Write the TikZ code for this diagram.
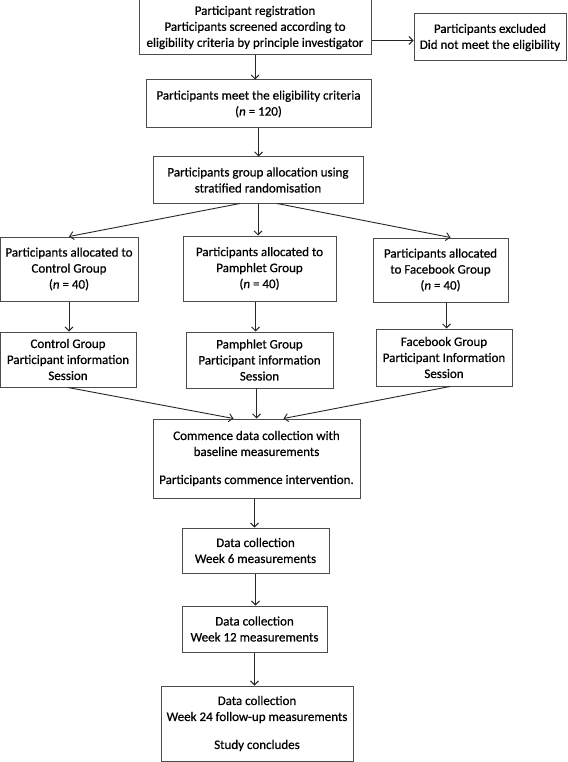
\documentclass[tikz,border=0pt]{standalone}
\usepackage{fontspec}
\setmainfont{Carlito}[FakeBold=0.6]
\usetikzlibrary{arrows.meta}

\begin{document}
\begin{tikzpicture}[x=1pt,y=-1pt,
      box/.style={draw=black!70,line width=1pt,align=center,inner sep=0pt,
                  font=\fontsize{13}{16}\selectfont},
      link/.style={every edge/.style={draw=black!85,line width=0.9pt,
                  -{Straight Barb[length=4pt,width=8pt]}}}]
      \useasboundingbox (0,0) rectangle (567,762);
      % screening
      \node[box,minimum width=232pt,minimum height=55pt] (reg) at (255,27.5)
            {Participant registration\\Participants screened according to\\eligibility criteria by principle investigator};
      \node[box,minimum width=152pt,minimum height=47pt] (excl) at (490,37.5)
            {Participants excluded\\Did not meet the eligibility};
      \node[box,minimum width=225pt,minimum height=48pt] (meet) at (258.5,104)
            {Participants meet the eligibility criteria\\(\textit{n} = 120)};
      \node[box,minimum width=210pt,minimum height=46pt] (alloc) at (258,180)
            {Participants group allocation using\\stratified randomisation};
      % groups
      \node[box,minimum width=138pt,minimum height=64pt] (ctrl) at (69,269)
            {Participants allocated to\\Control Group\\(\textit{n} = 40)};
      \node[box,minimum width=153pt,minimum height=65pt] (pamph) at (259.5,268.5)
            {Participants allocated to\\Pamphlet Group\\(\textit{n} = 40)};
      \node[box,minimum width=135pt,minimum height=64pt] (fb) at (440.5,270)
            {Participants allocated\\to Facebook Group\\(\textit{n} = 40)};
      \node[box,minimum width=136pt,minimum height=55pt] (ctrl-s) at (68,359.5)
            {Control Group\\Participant information\\Session};
      \node[box,minimum width=147pt,minimum height=56pt] (pamph-s) at (259.5,360)
            {Pamphlet Group\\Participant information\\Session};
      \node[box,minimum width=136pt,minimum height=57pt] (fb-s) at (444,357.5)
            {Facebook Group\\Participant Information\\Session};
      % data collection
      \node[box,minimum width=207pt,minimum height=79pt] (base) at (256.5,458.5)
            {Commence data collection with\\baseline measurements\\[12pt]Participants commence intervention.};
      \node[box,minimum width=147pt,minimum height=45pt] (wk6) at (255.5,550.5)
            {Data collection\\Week 6 measurements};
      \node[box,minimum width=145pt,minimum height=46pt] (wk12) at (254.5,629)
            {Data collection\\Week 12 measurements};
      \node[box,minimum width=192pt,minimum height=75pt] (wk24) at (257,723.5)
            {Data collection\\Week 24 follow-up measurements\\[12pt]Study concludes};
      \path[link]
      ([yshift=-3pt]reg.east|-excl.west) edge ([yshift=-3pt]excl.west)
      (reg.south) edge (reg.south|-meet.north)
      (meet.south) edge (meet.south|-alloc.north)
      ([xshift=-18pt]alloc.south) edge (ctrl.north)
      (alloc.south) edge (alloc.south|-pamph.north)
      ([xshift=19pt]alloc.south) edge ([xshift=10pt]fb.north)
      (ctrl.south) edge (ctrl.south|-ctrl-s.north)
      ([xshift=-4pt]pamph.south) edge ([xshift=-4pt]pamph.south|-pamph-s.north)
      ([xshift=6pt]fb.south) edge ([xshift=6pt]fb.south|-fb-s.north)
      (ctrl-s.south) edge ([xshift=-23pt]base.north)
      ([xshift=-3pt]pamph-s.south) edge ([xshift=-3pt]pamph-s.south|-base.north)
      ([xshift=6pt]fb-s.south) edge ([xshift=27pt]base.north)
      ([xshift=-2pt]base.south) edge ([xshift=-2pt]base.south|-wk6.north)
      (wk6.south) edge (wk6.south|-wk12.north)
      (wk12.south) edge (wk12.south|-wk24.north);
\end{tikzpicture}
\end{document}
